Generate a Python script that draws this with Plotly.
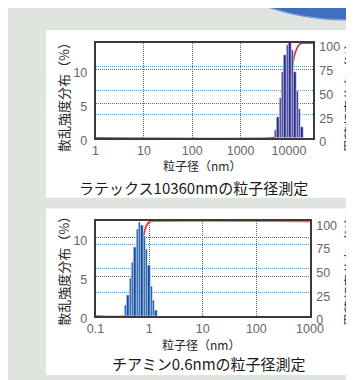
import numpy as np
import plotly.graph_objects as go

# ---------------- data ----------------
# top: latex 10360 nm
latex_size_nm = [5280, 5920, 6650, 7460, 8370, 9390, 10540, 11830, 13270, 14890, 16710, 18750]
latex_intensity = [1.2, 3.0, 5.9, 9.6, 12.2, 13.6, 14.1, 12.9, 9.6, 6.8, 4.2, 1.6]
latex_cum_size = [1, 4500, 5500, 6400, 7500, 8500, 9000, 10000, 11200, 12100, 13500, 15500, 17500, 19000, 31623]
latex_cum_pct = [0, 0, 1.5, 6, 17, 32, 42, 57, 69.5, 79.7, 90, 97, 99.5, 100, 100]
latex_xticks = [1, 10, 100, 1000, 10000]
latex_xtext = ["1", "10", "100", "1000", "10000"]
latex_yticks = [0, 5, 10]

# bottom: thiamine 0.6 nm
thia_size_nm = [0.366, 0.404, 0.447, 0.494, 0.546, 0.604, 0.668, 0.738, 0.816, 0.902, 0.998, 1.103, 1.220, 1.349]
thia_intensity = [1.35, 2.6, 4.8, 6.9, 8.7, 11.0, 11.9, 11.6, 10.1, 8.5, 6.5, 3.8, 2.0, 0.7]
thia_cum_size = [0.1, 0.35, 0.40, 0.455, 0.53, 0.61, 0.69, 0.776, 0.87, 1.0, 1.1, 1000]
thia_cum_pct = [0, 0, 4, 14.7, 28, 42.7, 62, 83, 94, 99.5, 100, 100]
thia_xticks = [0.1, 1, 10, 100, 1000]
thia_xtext = ["0.1", "1", "10", "100", "1000"]
thia_yticks = [0, 5, 10]

cum_ticks = [0, 25, 50, 75, 100]

# ---------------- styling ----------------
W, H = 354, 380
BG = "#dfe4de"
NAVY = "#2a2d8e"
BLUE = "#0f4ea3"
RED = "#e8383d"
GRAY_GRID = "#666666"
CYAN_GRID = "#35ace0"
FRAME = "#3a3a3a"
TICK_FONT = dict(family="Liberation Sans Narrow, Liberation Sans, Arial", size=12.5, color="#666666")
JP = "Noto Sans CJK JP"


def px_x(p):
    return p / W


def px_y(p):
    return 1 - p / H


def bar_geometry(centers):
    c = np.array(centers, dtype=float)
    lg = np.log10(c)
    step = np.diff(lg)
    edges = np.concatenate([[lg[0] - step[0] / 2], (lg[:-1] + lg[1:]) / 2, [lg[-1] + step[-1] / 2]])
    lo, hi = 10 ** edges[:-1], 10 ** edges[1:]
    return (lo + hi) / 2, hi - lo


fig = go.Figure()

# ---- top chart ----
fig.add_trace(go.Scatter(x=[], y=[], xaxis="x", yaxis="y", showlegend=False))
fig.add_trace(go.Scatter(x=latex_cum_size, y=latex_cum_pct, xaxis="x", yaxis="y2", mode="lines",
                         line=dict(color=RED, width=1.8, shape="spline", smoothing=0.5),
                         cliponaxis=False, showlegend=False, hoverinfo="skip"))
mid, wid = bar_geometry(latex_size_nm)
fig.add_trace(go.Bar(x=mid, y=latex_intensity, width=wid, xaxis="x", yaxis="y3",
                     marker=dict(color=NAVY, line=dict(color="white", width=0.5)),
                     showlegend=False, hoverinfo="skip"))

# ---- bottom chart ----
fig.add_trace(go.Scatter(x=[], y=[], xaxis="x2", yaxis="y4", showlegend=False))
fig.add_trace(go.Scatter(x=thia_cum_size, y=thia_cum_pct, xaxis="x2", yaxis="y5", mode="lines",
                         line=dict(color=RED, width=1.8, shape="spline", smoothing=0.5),
                         cliponaxis=False, showlegend=False, hoverinfo="skip"))
mid2, wid2 = bar_geometry(thia_size_nm)
fig.add_trace(go.Bar(x=mid2, y=thia_intensity, width=wid2, xaxis="x2", yaxis="y6",
                     marker=dict(color=BLUE, line=dict(color="white", width=0.5)),
                     showlegend=False, hoverinfo="skip"))

common_x = dict(type="log", showgrid=True, gridcolor=GRAY_GRID, griddash="1px,1px", gridwidth=1,
                showline=True, linecolor=FRAME, linewidth=1.5, mirror=True, ticks="",
                tickfont=TICK_FONT, zeroline=False, layer="below traces", ticklabelstandoff=0)
common_yl = dict(showgrid=True, gridcolor=GRAY_GRID, griddash="1px,1px", gridwidth=1,
                 showline=True, linecolor=FRAME, linewidth=1.5, mirror=True, ticks="",
                 tickfont=TICK_FONT, zeroline=False, layer="below traces", ticklabelstandoff=4,
                 ticklabelshift=3)
common_yr = dict(side="right", showgrid=True, gridcolor=CYAN_GRID, griddash="1px,1px", gridwidth=1,
                 showline=True, linecolor=FRAME, linewidth=1.5, ticks="", tickfont=TICK_FONT,
                 zeroline=False, layer="below traces", range=[0, 100], tickvals=cum_ticks,
                 ticklabelstandoff=2, ticklabelshift=4)

top_dom_x = [px_x(84), px_x(316.7)]
top_dom_y = [px_y(131.8), px_y(33.3)]
bot_dom_x = [px_x(84), px_x(313.3)]
bot_dom_y = [px_y(316.7), px_y(218.3)]

fig.update_layout(
    width=W, height=H, margin=dict(l=0, r=0, t=0, b=0),
    paper_bgcolor=BG, plot_bgcolor="white", barmode="overlay", bargap=0,
    xaxis=dict(common_x, domain=top_dom_x, anchor="y", range=[0, 4.5],
               tickvals=latex_xticks, ticktext=latex_xtext),
    yaxis=dict(common_yl, domain=top_dom_y, anchor="x", range=[0, 13.9], tickvals=latex_yticks),
    yaxis2=dict(common_yr, overlaying="y", anchor="x"),
    yaxis3=dict(overlaying="y", anchor="x", range=[0, 13.9], visible=False),
    xaxis2=dict(common_x, domain=bot_dom_x, anchor="y4", range=[-1, 3],
                tickvals=thia_xticks, ticktext=thia_xtext),
    yaxis4=dict(common_yl, domain=bot_dom_y, anchor="x2", range=[0, 12.07], tickvals=thia_yticks),
    yaxis5=dict(common_yr, overlaying="y4", anchor="x2"),
    yaxis6=dict(overlaying="y4", anchor="x2", range=[0, 12.07], visible=False),
)

shapes = [
    dict(type="rect", xref="paper", yref="paper", x0=px_x(31), x1=px_x(356), y0=px_y(194), y1=px_y(20),
         fillcolor="white", line=dict(width=0), layer="below"),
    dict(type="rect", xref="paper", yref="paper", x0=px_x(31), x1=px_x(356), y0=px_y(378), y1=px_y(205),
         fillcolor="white", line=dict(width=0), layer="below"),
    dict(type="circle", xref="paper", yref="paper", x0=px_x(91), x1=px_x(609), y0=px_y(9), y1=px_y(-509),
         fillcolor="#3d6fbe", line=dict(color="#6f96d2", width=1.5), layer="below"),
]
fig.update_layout(shapes=shapes)

TXT = "#262626"
ann = [
    dict(text="散乱強度分布（%）", x=px_x(50), y=px_y(86.5), textangle=-90, font=dict(family=JP, size=13, color=TXT)),
    dict(text="累積頻度分布（%）", x=px_x(355), y=px_y(86.5), textangle=-90, font=dict(family=JP, size=13, color=TXT)),
    dict(text="粒子径（nm）", x=px_x(198), y=px_y(160.5), font=dict(family=JP, size=12, color=TXT)),
    dict(text="ラテックス10360nmの粒子径測定", x=px_x(189), y=px_y(183), font=dict(family=JP, size=15, color="#1a1a1a")),
    dict(text="散乱強度分布（%）", x=px_x(50), y=px_y(266.7), textangle=-90, font=dict(family=JP, size=13, color=TXT)),
    dict(text="累積頻度分布（%）", x=px_x(355), y=px_y(267), textangle=-90, font=dict(family=JP, size=13, color=TXT)),
    dict(text="粒子径（nm）", x=px_x(197), y=px_y(346.5), font=dict(family=JP, size=12, color=TXT)),
    dict(text="チアミン0.6nmの粒子径測定", x=px_x(205), y=px_y(366), font=dict(family=JP, size=15, color="#1a1a1a")),
]
for a in ann:
    a.update(xref="paper", yref="paper", showarrow=False, xanchor="center", yanchor="middle")
fig.update_layout(annotations=ann)

fig.write_html("out.html")
